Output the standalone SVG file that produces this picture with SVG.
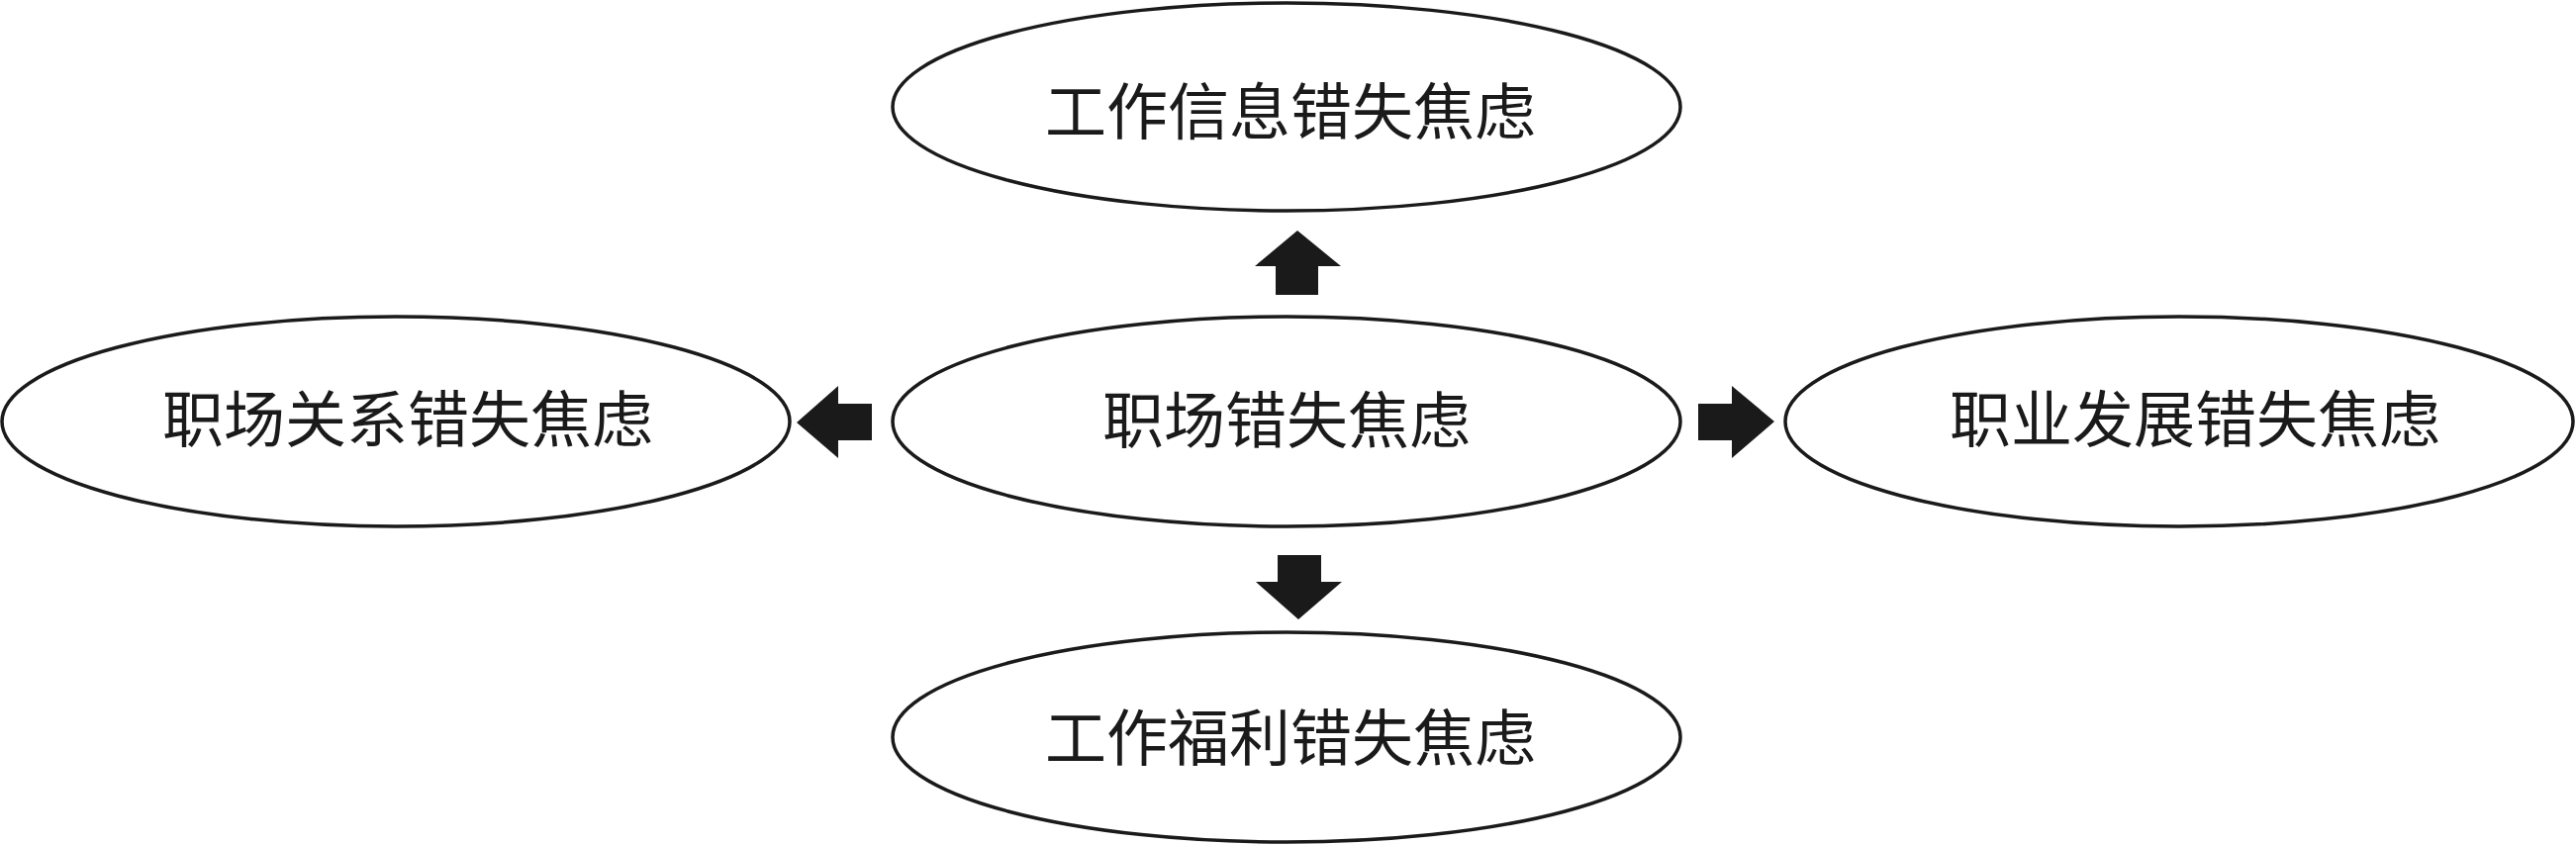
<svg xmlns="http://www.w3.org/2000/svg" width="2603" height="854" viewBox="0 0 2603 854">
<style>
.node ellipse{fill:#fff;stroke:#1a1a1a;stroke-width:3.5}
.node text{font-family:"Liberation Serif","Noto Sans CJK SC",serif;font-size:62px;fill:#1a1a1a;text-anchor:middle}
.arrow{fill:#1a1a1a;stroke:none}
</style>
<rect width="2603" height="854" fill="#fff"/>
<g id="node-top" class="node"><ellipse cx="1300" cy="108" rx="398" ry="105"/><text x="1304" y="136">工作信息错失焦虑</text></g>
<g id="node-center" class="node"><ellipse cx="1300" cy="426" rx="398" ry="106"/><text x="1300" y="448">职场错失焦虑</text></g>
<g id="node-left" class="node"><ellipse cx="400" cy="426" rx="398" ry="106"/><text x="412" y="447">职场关系错失焦虑</text></g>
<g id="node-right" class="node"><ellipse cx="2202" cy="426" rx="398" ry="106"/><text x="2218" y="447">职业发展错失焦虑</text></g>
<g id="node-bottom" class="node"><ellipse cx="1300" cy="745" rx="398" ry="106"/><text x="1304" y="769">工作福利错失焦虑</text></g>
<g id="connectors">
<polygon class="arrow" points="1311,233 1355,269 1332,269 1332,298 1289,298 1289,269 1268,269"/>
<polygon class="arrow" points="1312,626 1356,588 1335,588 1335,561 1291,561 1291,588 1269,588"/>
<polygon class="arrow" points="805,427 847,390 847,408 881,408 881,445 847,445 847,463"/>
<polygon class="arrow" points="1793,426 1750,390 1750,408 1716,408 1716,445 1750,445 1750,463"/>
</g>
</svg>
